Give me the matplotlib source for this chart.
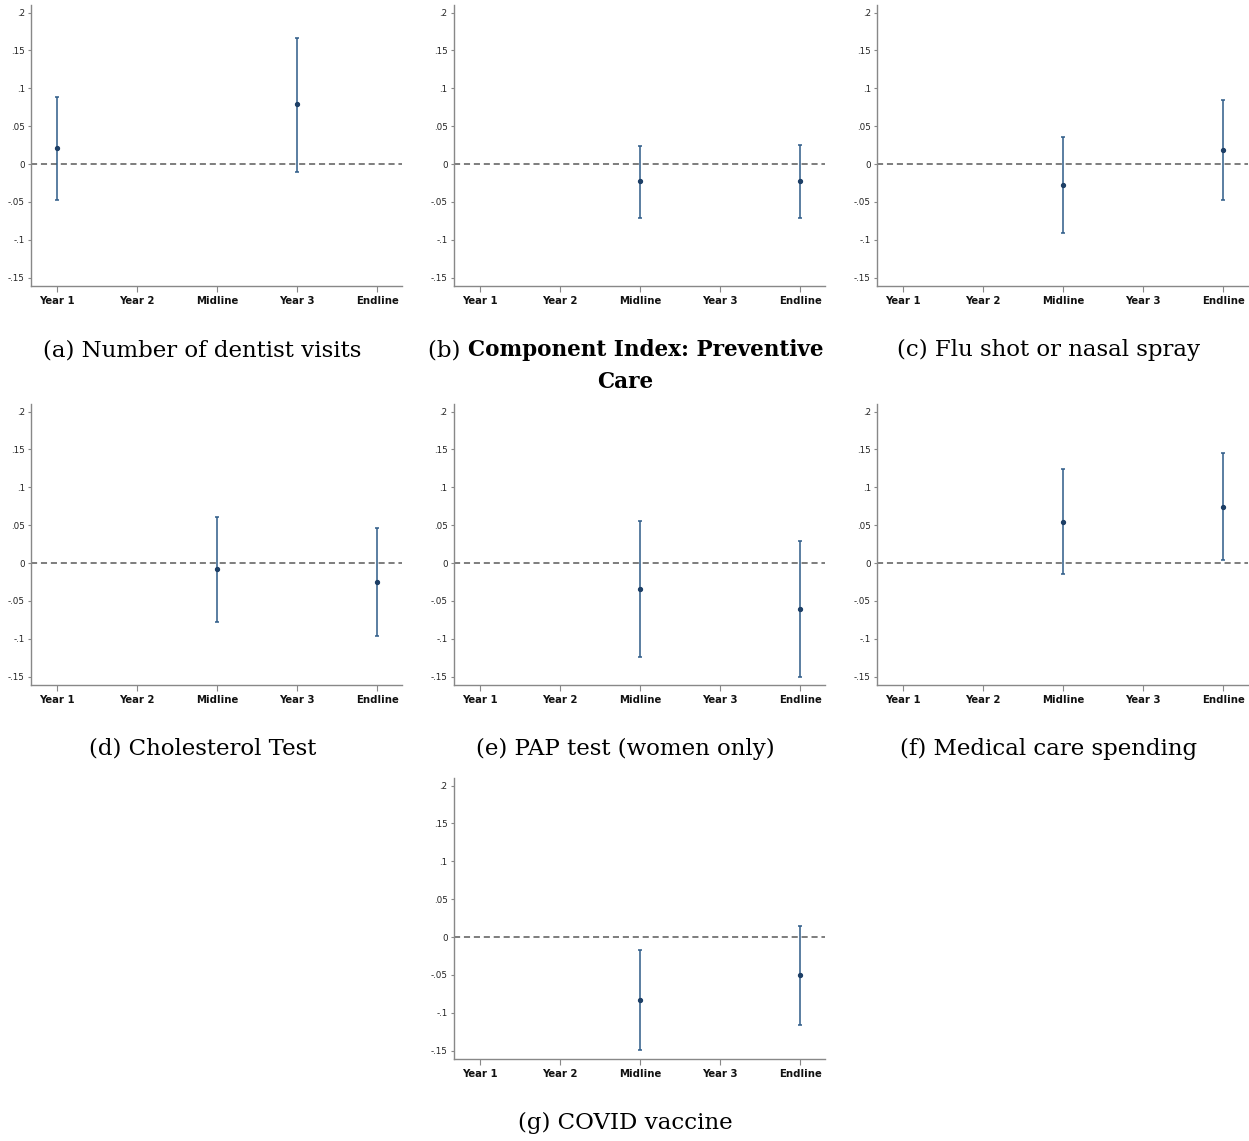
import matplotlib
matplotlib.use("Agg")
import matplotlib.pyplot as plt
import numpy as np

nan = np.nan

# survey waves on the x axis
periods = ["Year 1", "Year 2", "Midline", "Year 3", "Endline"]
ytick_vals = [-0.15, -0.1, -0.05, 0, 0.05, 0.1, 0.15, 0.2]
ytick_labels = ["-.15", "-.1", "-.05", "0", ".05", ".1", ".15", ".2"]

# (a) Number of dentist visits
dentist_coef = [0.021, nan, nan, 0.079, nan]
dentist_lo = [-0.047, nan, nan, -0.010, nan]
dentist_hi = [0.089, nan, nan, 0.167, nan]

# (b) Component index: preventive care
index_coef = [nan, nan, -0.023, nan, -0.023]
index_lo = [nan, nan, -0.071, nan, -0.071]
index_hi = [nan, nan, 0.024, nan, 0.025]

# (c) Flu shot or nasal spray
flu_coef = [nan, nan, -0.027, nan, 0.018]
flu_lo = [nan, nan, -0.091, nan, -0.048]
flu_hi = [nan, nan, 0.036, nan, 0.084]

# (d) Cholesterol test
chol_coef = [nan, nan, -0.008, nan, -0.025]
chol_lo = [nan, nan, -0.078, nan, -0.096]
chol_hi = [nan, nan, 0.061, nan, 0.046]

# (e) PAP test (women only)
pap_coef = [nan, nan, -0.034, nan, -0.061]
pap_lo = [nan, nan, -0.124, nan, -0.151]
pap_hi = [nan, nan, 0.055, nan, 0.029]

# (f) Medical care spending
spend_coef = [nan, nan, 0.054, nan, 0.074]
spend_lo = [nan, nan, -0.015, nan, 0.004]
spend_hi = [nan, nan, 0.124, nan, 0.145]

# (g) COVID vaccine
covid_coef = [nan, nan, -0.083, nan, -0.050]
covid_lo = [nan, nan, -0.149, nan, -0.116]
covid_hi = [nan, nan, -0.017, nan, 0.015]

panels = [
    ("(a)", "Number of dentist visits", False, dentist_coef, dentist_lo, dentist_hi),
    ("(b)", "Component Index: Preventive\nCare", True, index_coef, index_lo, index_hi),
    ("(c)", "Flu shot or nasal spray", False, flu_coef, flu_lo, flu_hi),
    ("(d)", "Cholesterol Test", False, chol_coef, chol_lo, chol_hi),
    ("(e)", "PAP test (women only)", False, pap_coef, pap_lo, pap_hi),
    ("(f)", "Medical care spending", False, spend_coef, spend_lo, spend_hi),
    ("(g)", "COVID vaccine", False, covid_coef, covid_lo, covid_hi),
]

W, H = 1249, 1141
fig = plt.figure(figsize=(W / 100, H / 100), dpi=100)

col_left = [31, 454, 877]
row_top = [5, 404, 778]
ax_w, ax_h = 371, 281
slots = [(0, 0), (0, 1), (0, 2), (1, 0), (1, 1), (1, 2), (2, 1)]

bar_color = "#2e5b88"
dot_color = "#1d3f66"
serif = "DejaVu Serif"
cap_size = 16.5
bold_size = 15.5

x = np.arange(1, 6)
renderer = fig.canvas.get_renderer()

for (tag, title, bold, coef, lo, hi), (r, c) in zip(panels, slots):
    left = col_left[c]
    top = row_top[r]
    ax = fig.add_axes([left / W, 1 - (top + ax_h) / H, ax_w / W, ax_h / H])

    coef = np.array(coef)
    lo = np.array(lo)
    hi = np.array(hi)
    ok = ~np.isnan(coef)
    ax.axhline(0, color="#5a5a5a", lw=1.1, ls=(0, (4, 2.5)), zorder=1)
    ax.errorbar(x[ok], coef[ok], yerr=[coef[ok] - lo[ok], hi[ok] - coef[ok]],
                fmt="none", ecolor=bar_color, elinewidth=1.1, capsize=1.6,
                capthick=1.1, zorder=2)
    ax.plot(x[ok], coef[ok], "o", color=dot_color, ms=2.8, zorder=3)

    ax.set_xlim(0.675, 5.31)
    ax.set_ylim(-0.161, 0.21)
    ax.set_xticks(x)
    ax.set_xticklabels(periods, fontweight="bold", fontsize=7.3, color="#111111")
    ax.set_yticks(ytick_vals)
    ax.set_yticklabels(ytick_labels, fontsize=6.3, color="#222222")
    ax.tick_params(axis="x", length=4, width=0.8, color="#888888", pad=3)
    ax.tick_params(axis="y", length=2.5, width=0.8, color="#888888", pad=2)
    for side in ["top", "right"]:
        ax.spines[side].set_visible(False)
    for side in ["left", "bottom"]:
        ax.spines[side].set_color("#888888")
        ax.spines[side].set_linewidth(1.0)

    # caption below each panel (centred on the panel image incl. tick labels)
    cpx = left + ax_w / 2 - 14
    cx = cpx / W
    cy = 1 - (top + 345) / H
    if not bold:
        fig.text(cx, cy, tag + " " + title, family=serif, fontsize=cap_size,
                 ha="center", va="center")
    else:
        line1, line2 = title.split("\n")
        t_tag = fig.text(0, cy, tag + " ", family=serif, fontsize=cap_size,
                         ha="left", va="center")
        t_bold = fig.text(0, cy, line1, family=serif, fontsize=bold_size,
                          fontweight="bold", ha="left", va="center")
        w_tag = t_tag.get_window_extent(renderer).width
        w_bold = t_bold.get_window_extent(renderer).width
        x0 = cpx - (w_tag + w_bold) / 2
        t_tag.set_x(x0 / W)
        t_bold.set_x((x0 + w_tag) / W)
        fig.text(cx, 1 - (top + 377) / H, line2, family=serif, fontsize=bold_size,
                 fontweight="bold", ha="center", va="center")

fig.savefig("out.png", dpi=100)
